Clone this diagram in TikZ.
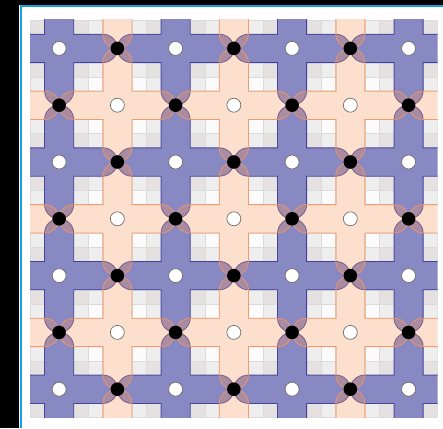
\documentclass[tikz,border=0pt]{standalone}
\usepackage{xcolor}
\definecolor{bluefill}{RGB}{40,40,145}
\definecolor{blueline}{RGB}{50,50,150}
\definecolor{orangefill}{RGB}{248,150,90}
\definecolor{orangeline}{RGB}{242,150,100}
\definecolor{frameblue}{RGB}{20,160,225}
\definecolor{cellgray}{RGB}{229,225,225}
\definecolor{cellmid}{RGB}{239,238,238}
\definecolor{cellwhite}{RGB}{251,251,251}
\definecolor{cellline}{RGB}{220,218,218}
\definecolor{ringgray}{RGB}{110,110,110}
\tikzset{
  bluecross/.style={fill=bluefill, fill opacity=0.55, draw=blueline, draw opacity=0.85, line width=0.8pt},
  orangecross/.style={fill=orangefill, fill opacity=0.3, draw=orangeline, draw opacity=0.9, line width=0.8pt},
  hole/.style={circle, fill=white, draw=ringgray, line width=0.7pt, minimum size=14pt, inner sep=0pt},
  dot/.style={circle, fill=black, minimum size=13.6pt, inner sep=0pt},
  cellbox/.style={draw=cellline, line width=0.4pt},
}
\newcommand\plusat[3]{%
  \path[#1, shift={(#2,#3)}] (1,-3) -- (1,-1) -- (3,-1)
    arc[start angle=-90,end angle=90,radius=1] -- (1,1) -- (1,3)
    arc[start angle=0,end angle=180,radius=1] -- (-1,1) -- (-3,1)
    arc[start angle=90,end angle=270,radius=1] -- (-1,-1) -- (-1,-3)
    arc[start angle=180,end angle=360,radius=1] -- cycle;}
\begin{document}
\begin{tikzpicture}[x=1pt,y=-1pt]
\useasboundingbox (0,0) rectangle (443,428);
\fill[white] (0,0) rectangle (443,428);
\fill[black] (0,0) rectangle (19.4,428);
\fill[black] (0,0) rectangle (443,5.2);
\draw[frameblue, line width=2.2pt] (20.6,428) -- (20.6,6.3) -- (443,6.3);
\begin{scope}[shift={(30pt,-20pt)}, x=14.56pt, y=-14.2pt]
  \clip (0,0) rectangle (28,28);
  % background cells in the gaps between the bands
  \foreach \a in {0,...,6}{
    \foreach \b in {0,...,6}{
      \pgfmathtruncatemacro\t{mod(\a,2)+mod(\b,2)}
      \pgfmathtruncatemacro\cx{4*\a+2}
      \pgfmathtruncatemacro\cy{4*\b+2}
      \ifcase\t \def\cc{cellgray}\or \def\cc{cellmid}\or \def\cc{cellwhite}\fi
      \foreach \dx/\dy in {-2/-2, 1/-2, -2/1, 1/1}{
        \path[cellbox, fill=\cc] (\cx+\dx,\cy+\dy) rectangle ++(1,1);
      }
    }
  }
  % blue crosses
  \foreach \cx in {2,10,18,26}{
    \foreach \cy in {2,10,18,26}{
      \plusat{bluecross}{\cx}{\cy}
    }
  }
  % orange crosses (including the ones just outside the frame)
  \foreach \cx in {-2,6,14,22,30}{
    \foreach \cy in {-2,6,14,22,30}{
      \plusat{orangecross}{\cx}{\cy}
    }
  }
  % white circles at cross centres
  \foreach \cx in {2,10,18,26}{
    \foreach \cy in {2,10,18,26}{
      \node[hole] (wb-\cx-\cy) at (\cx,\cy) {};
    }
  }
  \foreach \cx in {6,14,22}{
    \foreach \cy in {6,14,22}{
      \node[hole] (wo-\cx-\cy) at (\cx,\cy) {};
    }
  }
  % black circles where blue and orange arms meet
  \foreach \cx in {2,10,18,26}{
    \foreach \cy in {6,14,22}{
      \node[dot] (ka-\cx-\cy) at (\cx,\cy) {};
    }
  }
  \foreach \cx in {6,14,22}{
    \foreach \cy in {2,10,18,26}{
      \node[dot] (kb-\cx-\cy) at (\cx,\cy) {};
    }
  }
\end{scope}
\end{tikzpicture}
\end{document}
